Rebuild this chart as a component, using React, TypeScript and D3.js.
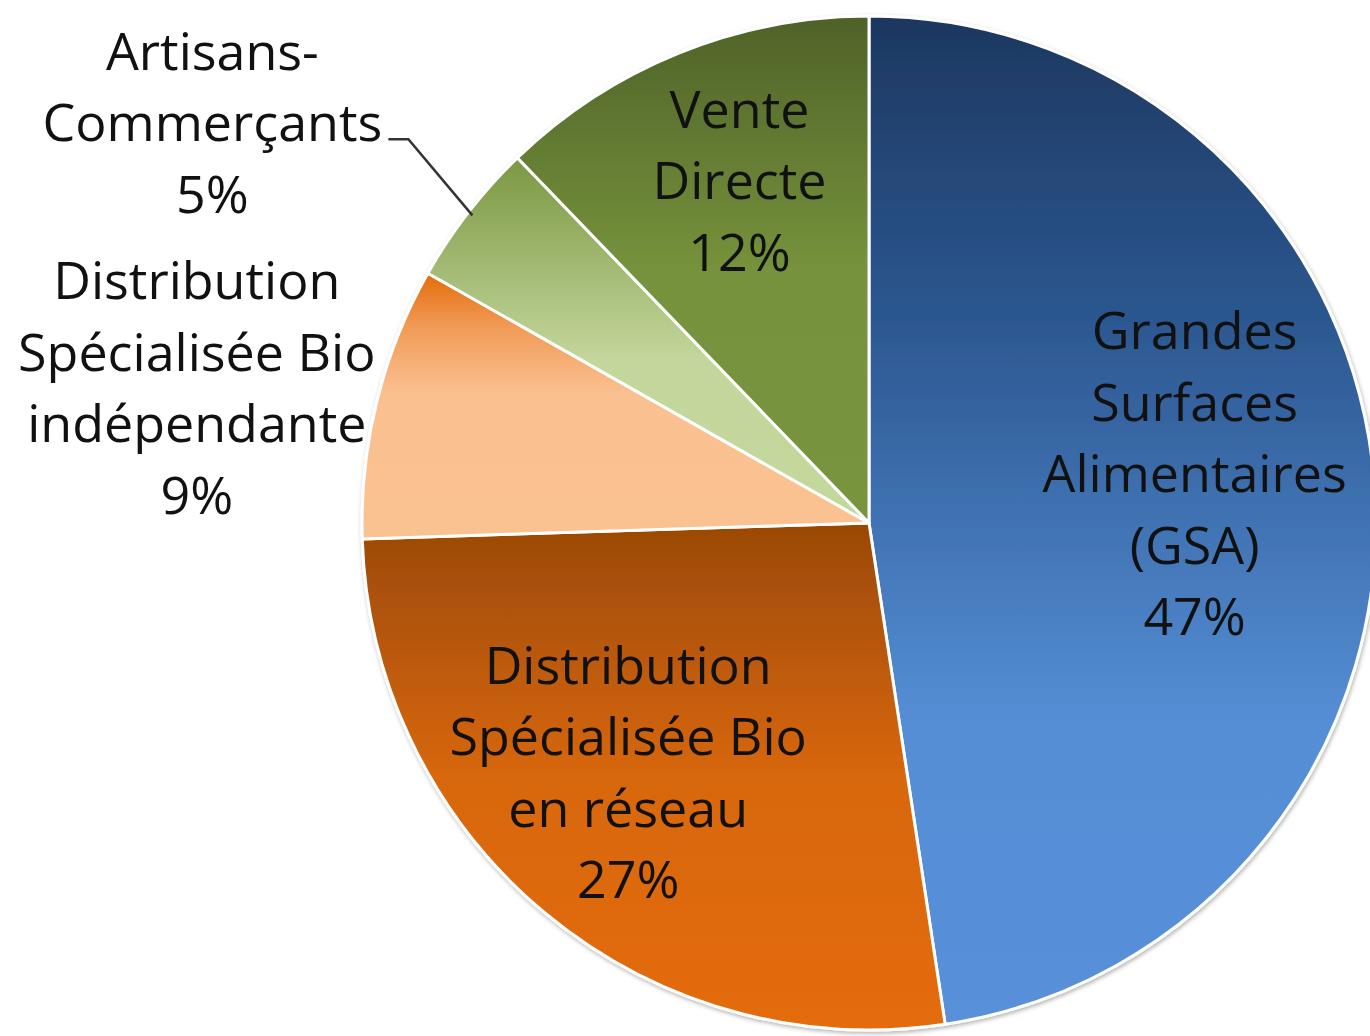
import React from 'react';
import * as d3 from 'd3';

// parts de marché des circuits de distribution bio (%), angles
const categories = [
  'Grandes Surfaces Alimentaires (GSA)',
  'Distribution Spécialisée Bio en réseau',
  'Distribution Spécialisée Bio indépendante',
  'Artisans-Commerçants',
  'Vente Directe',
];
const shares = [47.6, 26.9, 8.7, 4.6, 12.2];
// percentages as printed on the chart
const pctLabels = ['47%', '27%', '9%', '5%', '12%'];
const labelLines = [
  ['Grandes', 'Surfaces', 'Alimentaires', '(GSA)'],
  ['Distribution', 'Spécialisée Bio', 'en réseau'],
  ['Distribution', 'Spécialisée Bio', 'indépendante'],
  ['Artisans-', 'Commerçants'],
  ['Vente', 'Directe'],
];

// gradient per slice: [offset, colour]
const gradients = [
  [[0, '#1d375f'], [0.3, '#2c5790'], [0.7, '#558ed5'], [1, '#5890d9']],
  [[0, '#9a4906'], [0.5, '#d8670a'], [1, '#e46c0a']],
  [[0, '#e46c0a'], [0.2, '#f19a56'], [0.45, '#fac090'], [1, '#fac191']],
  [[0, '#7b9743'], [0.55, '#c3d69b'], [1, '#c4d79c']],
  [[0, '#4f6228'], [0.5, '#76923c'], [1, '#78943d']],
];

// label layout: inside labels sit on a label radius, outside ones hang off the rim
const labelRadius = [0.65, 0.69, 0, 0, 0.72];
const labelNudge = [[-3, -24], [-17, -19], [-180, -13], [-256, -89], [7, -3]];
const outside = [false, false, true, true, false];

const W = 1370;
const H = 1036;
const cx = 869;
const cy = 523;
const R = 507;
const lineH = 71.5;
const fontSize = 52;

export default function App() {
  const data = categories.map((c, i) => ({ name: c, value: shares[i], i }));
  const pie = d3.pie<any>().sort(null).value(d => d.value);
  const arcs = pie(data);
  const arc = d3.arc<any>().innerRadius(0).outerRadius(R);

  const labels = arcs.map((a, i) => {
    const mid = (a.startAngle + a.endAngle) / 2;
    const rr = outside[i] ? R : R * labelRadius[i];
    const px = Math.sin(mid) * rr;
    const py = -Math.cos(mid) * rr;
    const lines = [...labelLines[i], pctLabels[i]];
    const bx = px + labelNudge[i][0];
    const by = py + labelNudge[i][1];
    const first = by - ((lines.length - 1) * lineH) / 2 + 18;
    return { i, mid, px, py, bx, lines, first };
  });

  const art = labels[3];
  const leader = [
    [art.bx + 176, art.first + lineH - 2],
    [art.bx + 196, art.first + lineH - 2],
    [art.px * 0.99, art.py * 0.99],
  ];

  return (
    <svg width={W} height={H} style={{ position: 'absolute', left: 0, top: 0, background: '#fff' }}>
      <defs>
        {gradients.map((g, i) => (
          <linearGradient key={i} id={`g${i}`} x1="0" y1="0" x2="0" y2="1">
            {g.map(([o, c], k) => (
              <stop key={k} offset={o as number} stopColor={c as string} />
            ))}
          </linearGradient>
        ))}
        <filter id="sh" x="-5%" y="-5%" width="110%" height="110%">
          <feDropShadow dx="1" dy="2" stdDeviation="2" floodColor="#000" floodOpacity="0.3" />
        </filter>
      </defs>
      <g transform={`translate(${cx},${cy})`}>
        <g filter="url(#sh)">
          {arcs.map((a, i) => (
            <path key={i} d={arc(a) || ''} fill={`url(#g${i})`} stroke="#fff" strokeWidth={3} strokeLinejoin="round" />
          ))}
        </g>
        <polyline points={leader.map(p => p.join(',')).join(' ')} fill="none" stroke="#333" strokeWidth={2.5} />
        {labels.map(l => (
          <text
            key={l.i}
            textAnchor="middle"
            fontFamily="'Open Sans', sans-serif"
            fontSize={fontSize}
            fill="#111"
          >
            {l.lines.map((t, k) => (
              <tspan key={k} x={l.bx} y={l.first + k * lineH}>{t}</tspan>
            ))}
          </text>
        ))}
      </g>
    </svg>
  );
}
